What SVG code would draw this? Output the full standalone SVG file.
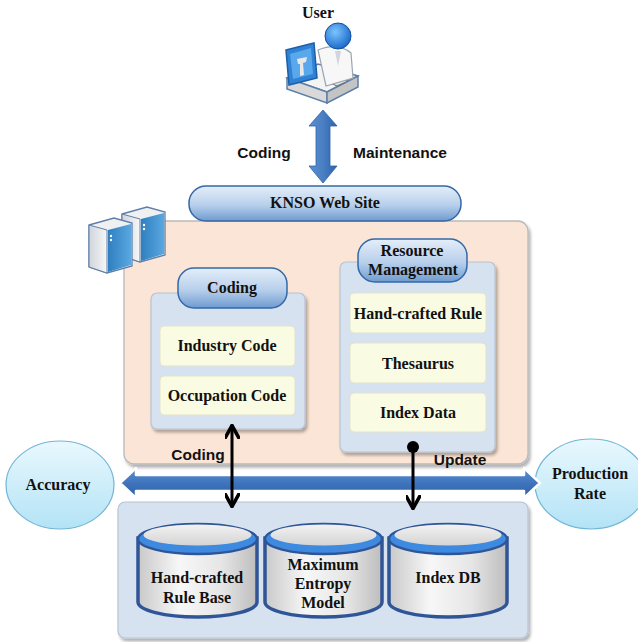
<svg xmlns="http://www.w3.org/2000/svg" width="638" height="642" viewBox="0 0 638 642">
  <defs>
    <linearGradient id="pill" x1="0" y1="0" x2="0" y2="1">
      <stop offset="0" stop-color="#e4eef9"/>
      <stop offset="0.55" stop-color="#b7cfeb"/>
      <stop offset="1" stop-color="#6f9bd0"/>
    </linearGradient>
    <linearGradient id="oval" x1="0" y1="0" x2="0" y2="1">
      <stop offset="0" stop-color="#e9f8fe"/>
      <stop offset="1" stop-color="#b3e3f6"/>
    </linearGradient>
    <linearGradient id="bigArrowV" x1="0" y1="0" x2="1" y2="0">
      <stop offset="0" stop-color="#5a8fd0"/>
      <stop offset="0.5" stop-color="#4a7fc4"/>
      <stop offset="1" stop-color="#2f62a8"/>
    </linearGradient>
    <linearGradient id="bigArrowH" x1="0" y1="0" x2="0" y2="1">
      <stop offset="0" stop-color="#5b90d2"/>
      <stop offset="0.5" stop-color="#3f75bd"/>
      <stop offset="1" stop-color="#2c5fa5"/>
    </linearGradient>
    <linearGradient id="cylBody" x1="0" y1="0" x2="1" y2="0">
      <stop offset="0" stop-color="#c9c9c9"/>
      <stop offset="0.35" stop-color="#f7f7f7"/>
      <stop offset="0.7" stop-color="#e6e6e6"/>
      <stop offset="1" stop-color="#bdbdbd"/>
    </linearGradient>
    <linearGradient id="cylTop" x1="0" y1="0" x2="0" y2="1">
      <stop offset="0" stop-color="#f2f2f2"/>
      <stop offset="1" stop-color="#d4d4d4"/>
    </linearGradient>
    <linearGradient id="towerSide" x1="0" y1="0" x2="1" y2="0">
      <stop offset="0" stop-color="#2f7fc0"/>
      <stop offset="1" stop-color="#5aa8e0"/>
    </linearGradient>
    <linearGradient id="towerFront" x1="0" y1="0" x2="1" y2="0">
      <stop offset="0" stop-color="#d0d4d9"/>
      <stop offset="1" stop-color="#f6f7f8"/>
    </linearGradient>
    <radialGradient id="head" cx="0.4" cy="0.35" r="0.7">
      <stop offset="0" stop-color="#7cc4ff"/>
      <stop offset="1" stop-color="#1565c8"/>
    </radialGradient>
    <filter id="shadow" x="-10%" y="-10%" width="125%" height="130%">
      <feDropShadow dx="2" dy="3" stdDeviation="1.5" flood-color="#000" flood-opacity="0.3"/>
    </filter>
    <marker id="blackHead" viewBox="0 0 10 10" refX="8" refY="5" markerWidth="5" markerHeight="5" orient="auto-start-reverse">
      <path d="M0,0 L9,5 L0,10" fill="none" stroke="#000" stroke-width="2.4"/>
    </marker>
    <marker id="dot" viewBox="0 0 10 10" refX="5" refY="5" markerWidth="4" markerHeight="4">
      <circle cx="5" cy="5" r="5" fill="#000"/>
    </marker>
  </defs>
  <style>
    .serif { font-family: "Liberation Serif", "Times New Roman", serif; font-weight: bold; fill: #111; text-anchor: middle; font-size: 16px; }
    .sans { font-family: "Liberation Sans", Arial, sans-serif; font-weight: bold; fill: #111; text-anchor: middle; font-size: 15.5px; }
    .pill { fill: url(#pill); stroke: #3468a6; stroke-width: 1.5; }
    .panel { fill: #d7e2f1; stroke: #b8c3d2; stroke-width: 1.2; }
    .item { fill: #fafbe3; stroke: #e2e3cc; stroke-width: 1; }
    .oval { fill: url(#oval); stroke: #72b6d6; stroke-width: 1.2; }
    .conn { stroke: #000; stroke-width: 3; fill: none; }
    .cyl-body { fill: url(#cylBody); stroke: #2f5597; stroke-width: 3.5; }
    .cyl-rim { fill: #3d8ae0; stroke: #2f5597; stroke-width: 2.5; }
    .cyl-top { fill: url(#cylTop); }
  </style>

  <rect width="638" height="642" fill="#fff"/>

  <!-- user at workstation -->
  <g id="user">
    <text class="serif" x="318" y="18">User</text>
    <!-- desk -->
    <polygon points="287,78 318,64 358,76 327,92" fill="#f4f4f4" stroke="#5e7fa8" stroke-width="1.5"/>
    <polygon points="287,78 327,92 327,103 287,89" fill="#d9d9d9" stroke="#5e7fa8" stroke-width="1.5"/>
    <polygon points="327,92 358,76 358,87 327,103" fill="#c4c4c4" stroke="#5e7fa8" stroke-width="1.5"/>
    <polygon points="328,82 339,77 348,81 337,86" fill="#e0e0e0" stroke="#6a6a6a" stroke-width="1"/>
    <!-- person -->
    <path d="M318,50 Q338,42 351,53 L353,78 L326,86 Z" fill="#f7f7f7" stroke="#9aa5b3" stroke-width="1.2"/>
    <path d="M335,51 L338,66 L341,51" fill="#cfd6df"/>
    <circle cx="338" cy="36" r="13" fill="url(#head)" stroke="#0f4f9e" stroke-width="1"/>
    <!-- monitor -->
    <polygon points="286,50 314,43 317,78 289,85" fill="#2f82d6" stroke="#1d5ea8" stroke-width="1.5"/>
    <polygon points="290,54 311,48 313,74 293,79" fill="#5aa8ec"/>
    <polygon points="297,59 307,57 306,62 303,63 304,75 300,76 300,64 298,64" fill="#e8e8e8"/>
  </g>

  <!-- main system area -->
  <g id="system">
    <rect x="124" y="221" width="404" height="243" rx="10" fill="#fbe5d6" stroke="#b9b9b9" stroke-width="1.3" filter="url(#shadow)"/>
  </g>

  <!-- pair of server towers -->
  <g id="servers">
    <polygon points="122,214 147,207 165,212 165,255 140,262 122,256" fill="#eef0f2" stroke="#5e7fa8" stroke-width="1.3"/>
    <polygon points="122,214 140,219 140,262 122,256" fill="url(#towerFront)" stroke="#5e7fa8" stroke-width="1"/>
    <polygon points="141,219 164,213 164,254 141,261" fill="url(#towerSide)"/>
    <polygon points="89,225 114,218 132,223 132,266 107,273 89,267" fill="#eef0f2" stroke="#5e7fa8" stroke-width="1.3"/>
    <polygon points="89,225 107,230 107,273 89,267" fill="url(#towerFront)" stroke="#5e7fa8" stroke-width="1"/>
    <polygon points="108,230 131,224 131,265 108,272" fill="url(#towerSide)"/>
    <circle cx="111" cy="236" r="1.2" fill="#fff"/>
    <circle cx="111" cy="240" r="1.2" fill="#fff"/>
    <circle cx="144" cy="225" r="1.2" fill="#fff"/>
    <circle cx="144" cy="229" r="1.2" fill="#fff"/>
  </g>

  <g id="knso-web-site">
    <rect class="pill" x="189" y="186" width="272" height="35" rx="17"/>
    <text class="serif" x="325" y="208">KNSO Web Site</text>
  </g>

  <!-- coding module -->
  <g id="coding">
    <rect class="panel" x="151" y="293" width="154" height="136" rx="6" filter="url(#shadow)"/>
    <rect class="pill" x="178" y="268" width="109" height="40" rx="16"/>
    <text class="serif" x="232" y="293">Coding</text>
    <g id="industry-code">
      <rect class="item" x="160" y="326" width="135" height="40" rx="4"/>
      <text class="serif" x="227" y="351">Industry Code</text>
    </g>
    <g id="occupation-code">
      <rect class="item" x="160" y="376" width="135" height="39" rx="4"/>
      <text class="serif" x="227" y="401">Occupation Code</text>
    </g>
  </g>

  <!-- resource management module -->
  <g id="resource-management">
    <rect class="panel" x="340" y="262" width="155" height="190" rx="6" filter="url(#shadow)"/>
    <rect class="pill" x="358" y="239" width="109" height="43" rx="17"/>
    <text class="serif" x="412" y="256">Resource</text>
    <text class="serif" x="413" y="275">Management</text>
    <g id="hand-crafted-rule">
      <rect class="item" x="350" y="293" width="136" height="40" rx="4"/>
      <text class="serif" x="418" y="319">Hand-crafted Rule</text>
    </g>
    <g id="thesaurus">
      <rect class="item" x="350" y="343" width="136" height="40" rx="4"/>
      <text class="serif" x="418" y="369">Thesaurus</text>
    </g>
    <g id="index-data">
      <rect class="item" x="350" y="393" width="136" height="39" rx="4"/>
      <text class="serif" x="418" y="418">Index Data</text>
    </g>
  </g>

  <!-- measures -->
  <g id="accuracy">
    <ellipse class="oval" cx="60" cy="485" rx="54" ry="44"/>
    <text class="serif" x="58" y="490">Accuracy</text>
  </g>
  <g id="production-rate">
    <ellipse class="oval" cx="591" cy="484" rx="56" ry="45"/>
    <text class="serif" x="590" y="479">Production</text>
    <text class="serif" x="590" y="499">Rate</text>
  </g>

  <!-- storage layer -->
  <g id="storage">
    <rect class="panel" x="118" y="502" width="410" height="136" rx="7" filter="url(#shadow)"/>
  </g>
  <g id="rule-base">
    <path class="cyl-body" d="M138,538 L138,602 A59.5,15 0 0 0 257,602 L257,538 Z"/>
    <ellipse class="cyl-rim" cx="197.5" cy="539" rx="59.5" ry="15"/>
    <ellipse class="cyl-top" cx="197.5" cy="535" rx="54" ry="10.5"/>
    <text class="serif" x="197" y="583">Hand-crafted</text>
    <text class="serif" x="197" y="603">Rule Base</text>
  </g>
  <g id="maximum-entropy-model">
    <path class="cyl-body" d="M265,538 L265,602 A58.5,15 0 0 0 382,602 L382,538 Z"/>
    <ellipse class="cyl-rim" cx="323.5" cy="539" rx="58.5" ry="15"/>
    <ellipse class="cyl-top" cx="323.5" cy="535" rx="53" ry="10.5"/>
    <text class="serif" x="323" y="570">Maximum</text>
    <text class="serif" x="323" y="589">Entropy</text>
    <text class="serif" x="323" y="608">Model</text>
  </g>
  <g id="index-db">
    <path class="cyl-body" d="M389,538 L389,602 A59,15 0 0 0 507,602 L507,538 Z"/>
    <ellipse class="cyl-rim" cx="448" cy="539" rx="59" ry="15"/>
    <ellipse class="cyl-top" cx="448" cy="535" rx="53.5" ry="10.5"/>
    <text class="serif" x="448" y="583">Index DB</text>
  </g>

  <!-- connectors -->
  <g id="connectors">
    <!-- user <-> web site -->
    <polygon points="323,110 337,126 330,126 330,166 337,166 323,183 309,166 316,166 316,126 309,126" fill="url(#bigArrowV)" stroke="#2f62a8" stroke-width="0.8"/>
    <text class="sans" x="264" y="158">Coding</text>
    <text class="sans" x="400" y="158">Maintenance</text>
    <!-- accuracy <-> production rate -->
    <polygon points="120,483 136,468 136,475 524,475 524,468 540,483 524,498 524,491 136,491 136,498" fill="url(#bigArrowH)" stroke="#fff" stroke-width="2.5" stroke-linejoin="round"/>
    <!-- coding <-> rule base -->
    <line class="conn" x1="232" y1="427" x2="232" y2="505" marker-start="url(#blackHead)" marker-end="url(#blackHead)"/>
    <text class="sans" x="198" y="460">Coding</text>
    <!-- index data -> index DB -->
    <line class="conn" x1="413" y1="447" x2="413" y2="507" marker-start="url(#dot)" marker-end="url(#blackHead)"/>
    <text class="sans" x="460" y="465">Update</text>
  </g>
</svg>
